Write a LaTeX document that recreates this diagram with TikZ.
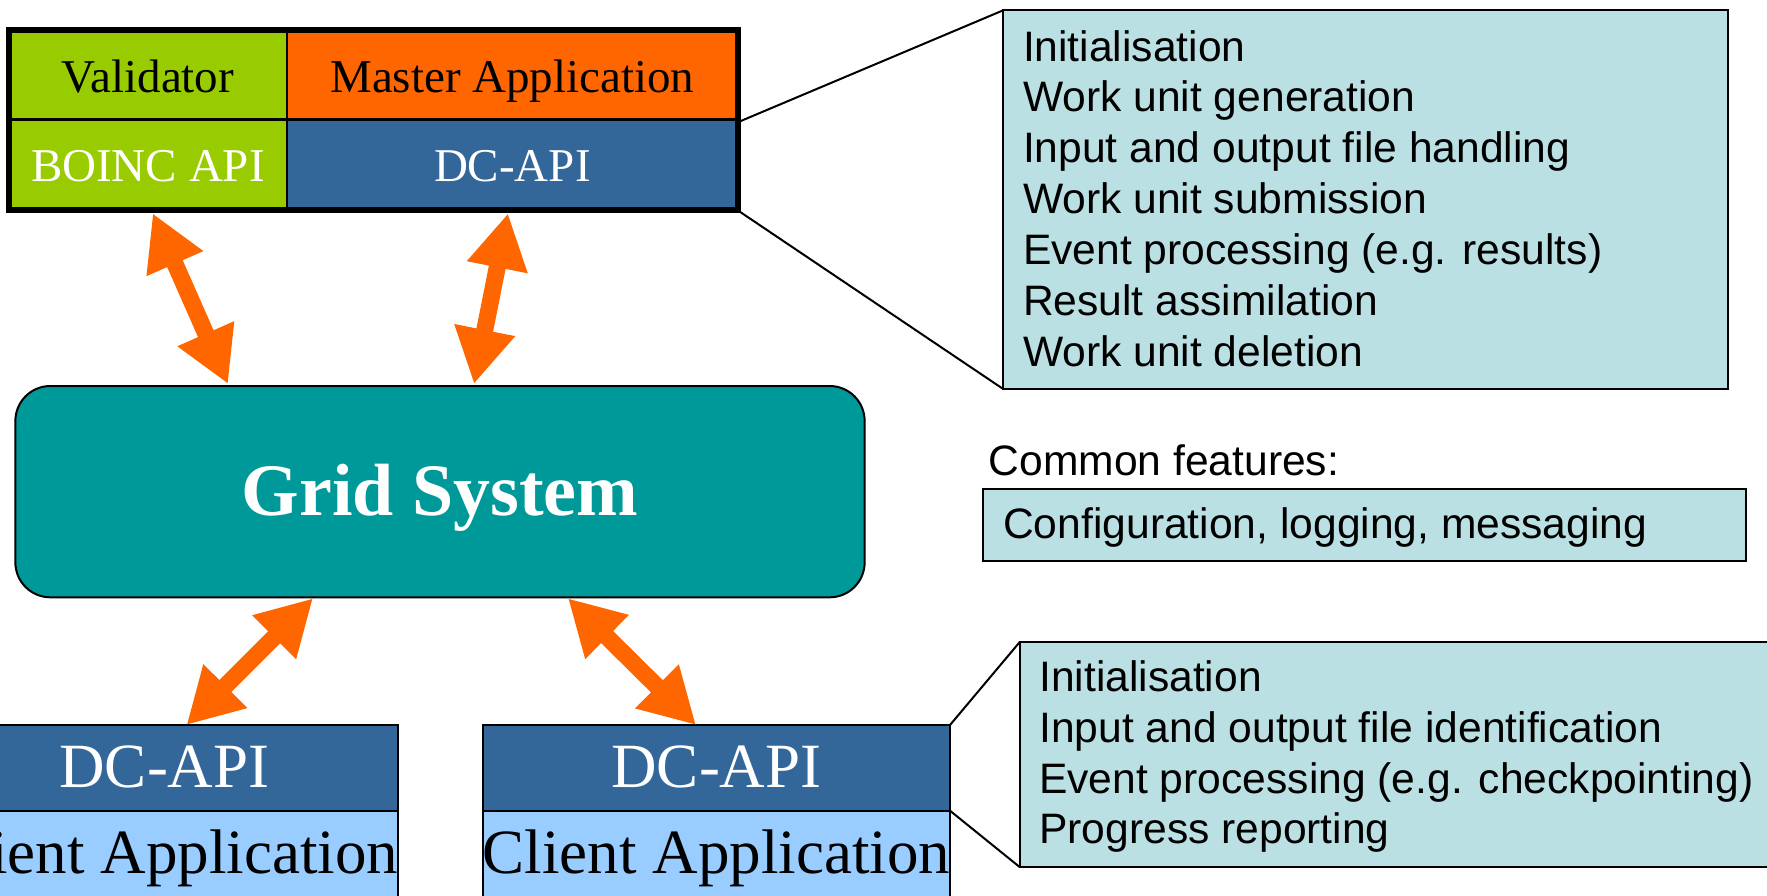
\documentclass[tikz,border=0pt]{standalone}
\usepackage{fontspec}
\setmainfont{Liberation Serif}
\newfontfamily\arialf{Liberation Sans}
\usetikzlibrary{arrows.meta,fit,calc}
\definecolor{valgreen}{HTML}{99CC00}
\definecolor{mastorange}{HTML}{FF6600}
\definecolor{apiblue}{HTML}{336699}
\definecolor{gridteal}{HTML}{009999}
\definecolor{clientblue}{HTML}{99CCFF}
\definecolor{callfill}{HTML}{BBE0E3}
\begin{document}
\begin{tikzpicture}[x=1pt,y=-1pt,
  cell/.style={draw=black, line width=2.5pt, outer sep=0pt, inner sep=0pt,
    text height=35pt, text depth=0pt, font=\fontsize{47}{56}\selectfont},
  lowcell/.style={draw=black, line width=2pt, outer sep=0pt, inner sep=0pt,
    minimum width=467pt, text depth=0pt},
  callbox/.style={draw=black, line width=2pt, fill=callfill, outer sep=0pt, inner sep=0pt},
  calltext/.style={anchor=base west, inner sep=0pt, font=\arialf\fontsize{42.6}{51}\selectfont},
  thinline/.style={draw=black, line width=2pt},
  fatarrow/.style={draw=mastorange, line width=17pt,
    {Triangle[width=58pt,length=55pt,fill=mastorange]}-{Triangle[width=58pt,length=55pt,fill=mastorange]}}
]
\useasboundingbox (0,0) rectangle (1767,895);
\clip (0,0) rectangle (1767,895);

% top block
\node[cell, fill=valgreen, minimum width=278.2pt, minimum height=89pt] (val) at (147.9,74.8) {Validator};
\node[cell, fill=mastorange, minimum width=450.7pt, minimum height=89pt] (master) at (512.35,74.8) {Master Application};
\node[cell, fill=valgreen, text=white, minimum width=278.2pt, minimum height=91pt, text height=33.8pt] (boinc) at (147.9,164.8) {BOINC API};
\node[cell, fill=apiblue, text=white, minimum width=450.7pt, minimum height=91pt, text height=33.8pt] (dcapi) at (512.35,164.8) {DC-API};
\node[fit=(val)(dcapi), draw=black, line width=6pt, inner sep=0pt, outer sep=0pt] (top) {};

% grid
\node[draw=black, line width=2pt, fill=gridteal, rounded corners=35pt, outer sep=0pt, inner sep=0pt,
  minimum width=849.3pt, minimum height=211.3pt, text=white,
  font=\bfseries\fontsize{74}{88}\selectfont, text height=48pt, text depth=0pt] (grid) at (440,491.65) {Grid System};

% bottom blocks
\node[lowcell, fill=apiblue, text=white, minimum height=85.7pt, text height=38.4pt,
  font=\fontsize{63}{74}\selectfont] (dc1) at (164.5,767.85) {DC-API};
\node[lowcell, fill=clientblue, minimum height=89.3pt, text height=35.3pt,
  font=\fontsize{63}{74}\selectfont] (cl1) at (164.5,855.35) {Client Application};
\node[lowcell, fill=apiblue, text=white, minimum height=85.7pt, text height=38.4pt,
  font=\fontsize{63}{74}\selectfont] (dc2) at (716.5,767.85) {DC-API};
\node[lowcell, fill=clientblue, minimum height=89.3pt, text height=35.3pt,
  font=\fontsize{63}{74}\selectfont] (cl2) at (716.5,855.35) {Client Application};

% callout 1
\node[callbox, minimum width=725.2pt, minimum height=378.7pt] (call1) at (1365.8,199.65) {};
\foreach \t [count=\i from 0] in {Initialisation,Work unit generation,Input and output file handling,Work unit submission,Event processing (e.g. results),Result assimilation,Work unit deletion}
  \node[calltext] (ca\i) at (1022.8,61+50.9*\i) {\t};

% common features
\node[calltext] (common) at (988.5,475) {Common features:};
\node[callbox, minimum width=762.8pt, minimum height=71.4pt] (conf) at (1364.6,525) {};
\node[calltext] (conftext) at (1003,538.3) {Configuration, logging, messaging};

% callout 2
\node[callbox, minimum width=770pt, minimum height=225.6pt] (call2) at (1405,754.5) {};
\foreach \t [count=\i from 0] in {Initialisation,Input and output file identification,Event processing (e.g. checkpointing),Progress reporting}
  \node[calltext] (cb\i) at (1039,691.7+50.7*\i) {\t};

% callout connectors
\draw[thinline] ([yshift=-2pt]top.east) -- (call1.north west);
\draw[thinline] (top.south east) -- (call1.south west);
\draw[thinline] (dc2.north east) -- (call2.north west);
\draw[thinline] (dc2.south east) -- (call2.south west);

% arrows
\draw[fatarrow] ([xshift=-220.5pt,yshift=-3pt]top.south) -- ([xshift=-212pt,yshift=2pt]grid.north);
\draw[fatarrow] ([xshift=134.75pt,yshift=-3pt]top.south) -- ([xshift=34pt,yshift=2pt]grid.north);
\draw[fatarrow] ([xshift=-127pt,yshift=-1pt]grid.south) -- ([xshift=22pt]dc1.north);
\draw[fatarrow] ([xshift=128pt,yshift=-1pt]grid.south) -- ([xshift=-20.5pt]dc2.north);
\end{tikzpicture}
\end{document}
